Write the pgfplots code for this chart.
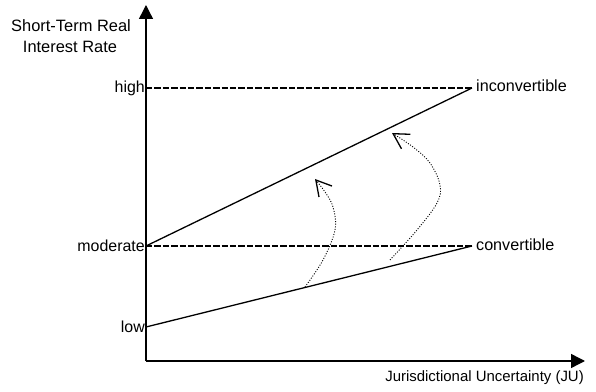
\documentclass[border=0pt]{standalone}
\usepackage{pgfplots}
\pgfplotsset{compat=1.18}
\usepackage{fontspec}
\setmainfont{Liberation Sans}
\usetikzlibrary{arrows.meta}
\begin{document}
\begin{tikzpicture}[font=\fontsize{16}{21}\selectfont]
\begin{axis}[
  scale only axis,
  width=439bp, height=356bp,
  xmin=0, xmax=439, ymin=0, ymax=356,
  axis lines=left,
  axis line style={line width=1.4bp, -{Triangle[length=14bp,width=14bp]}},
  xtick=\empty,
  ytick={34,115,273},
  yticklabels={low,moderate,high},
  major tick length=0pt,
  yticklabel style={inner sep=1bp, font=\fontsize{16}{19}\selectfont},
  /pgf/number format/assume math mode=true,
  clip=false,
]
% dashed levels
\addplot[black, line width=2.4bp, dash pattern=on 6.4bp off 2bp] coordinates {(0,273) (326,273)};
\addplot[black, line width=2.4bp, dash pattern=on 6.4bp off 2bp] coordinates {(0,115) (326,115)};
% regime lines
\addplot[black, line width=1.3bp] coordinates {(0,115) (326,273)};
\addplot[black, line width=1.3bp] coordinates {(0,34) (326,115)};
% dotted curved arrows
\addplot[black, line width=0.9bp, dash pattern=on 1bp off 1.6bp, smooth, tension=0.6,
  -{Straight Barb[length=15bp,width=17bp,line width=1.3bp]}]
  coordinates {(159,74) (177,101) (189,131) (187,154) (179,169) (169,182)};
\addplot[black, line width=0.9bp, dash pattern=on 1bp off 1.6bp, smooth, tension=0.6,
  -{Straight Barb[length=15bp,width=17bp,line width=1.3bp]}]
  coordinates {(244,101) (271,131) (291,158) (294,176) (284,198) (267,214) (246,228)};
% end labels
\node[anchor=west, inner sep=0pt, font=\fontsize{16.2}{19}\selectfont] at (axis cs:330,275) {inconvertible};
\node[anchor=west, inner sep=0pt, font=\fontsize{16.2}{19}\selectfont] at (axis cs:330,116) {convertible};
% axis titles
\node[anchor=base, inner sep=0pt, font=\fontsize{16.5}{19}\selectfont] at (axis cs:-75,329) {Short-Term Real};
\node[anchor=base, inner sep=0pt, font=\fontsize{16.5}{19}\selectfont] at (axis cs:-76,308) {Interest Rate};
\node[anchor=east, inner sep=0pt, font=\fontsize{15}{18}\selectfont] at (axis cs:438,-17) {Jurisdictional Uncertainty (JU)};
\coordinate (O) at (axis cs:0,0);
\end{axis}
\pgfresetboundingbox
\path[use as bounding box] ([shift={(-146bp,-31bp)}]O) rectangle ([shift={(450bp,361bp)}]O);
\end{tikzpicture}
\end{document}
